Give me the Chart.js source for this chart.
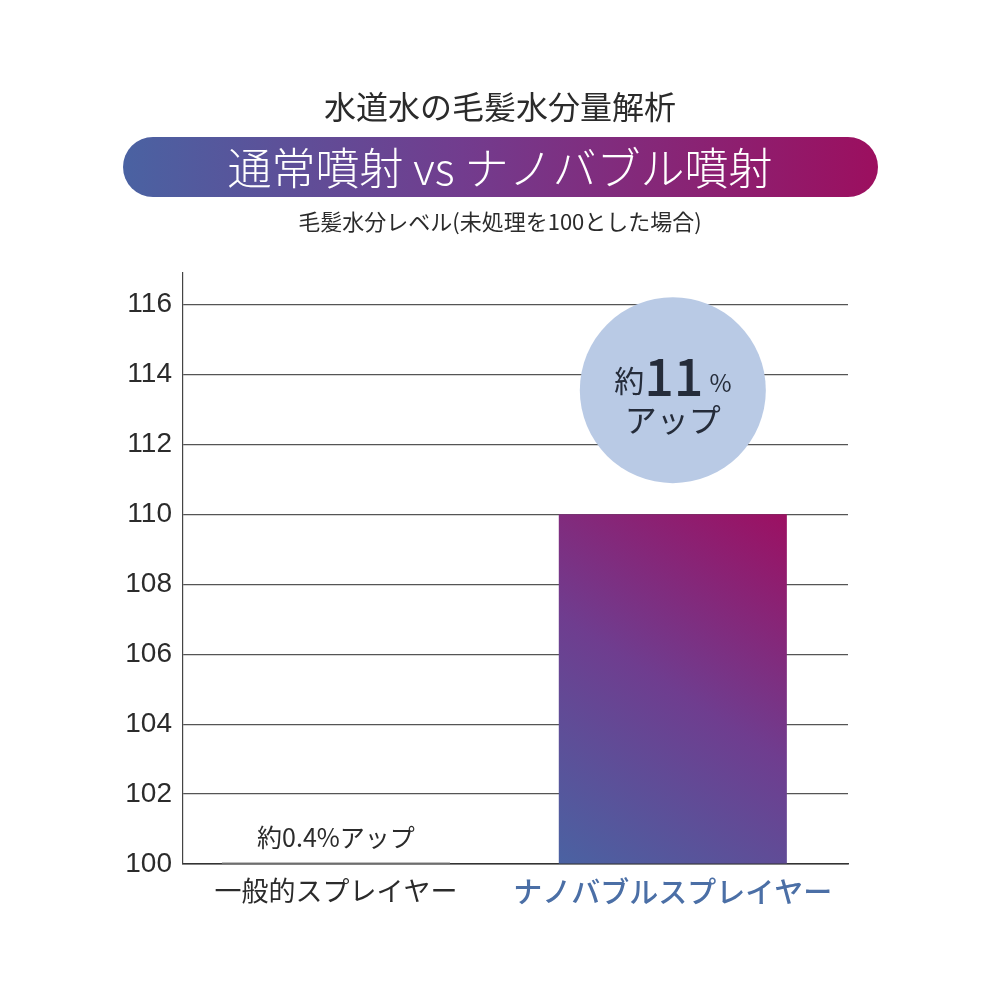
<!DOCTYPE html>
<html>
<head>
<meta charset="utf-8">
<script src="https://cdn.jsdelivr.net/npm/chart.js@4/dist/chart.umd.min.js"></script>
<style>
html,body{margin:0;padding:0;background:#fff;}
#wrap{width:1000px;height:1000px;position:relative;}
</style>
</head>
<body>
<div id="wrap"><canvas id="c" width="1000" height="1000"></canvas></div>
<script>
const titleText = "水道水の毛髪水分量解析";
const bannerText = "通常噴射 vs ナノバブル噴射";
const subtitleText = "毛髪水分レベル(未処理を100とした場合)";
const categories = ["一般的スプレイヤー", "ナノバブルスプレイヤー"];
const positions = [0, 1];
const values = [100.05, 110];
const yTicks = [100, 102, 104, 106, 108, 110, 112, 114, 116];
const yMin = 100;
const yMax = 116.9;
const noteSmall = "約0.4%アップ";
const noteBigPre = "約";
const noteBigNum = "11";
const noteBigPct = "%";
const noteBig2 = "アップ";

const FONT = "'Noto Sans CJK JP', 'Noto Sans', sans-serif";

function barColor(ctx) {
  const chart = ctx.chart;
  const a = chart.chartArea;
  if (!a) return '#7a3a90';
  if (ctx.dataIndex === 0) return '#a8a8a8';
  const xs = chart.scales.x, ys = chart.scales.y;
  const x0 = xs.getPixelForValue(positions[1]) - 114;
  const x1 = xs.getPixelForValue(positions[1]) + 114;
  const yb = ys.getPixelForValue(yMin);
  const yt = ys.getPixelForValue(values[1]);
  const g = chart.ctx.createLinearGradient(x0, yb, x1, yt);
  g.addColorStop(0, '#4a62a2');
  g.addColorStop(0.5, '#6f3d8f');
  g.addColorStop(1, '#9c1062');
  return g;
}

const decor = {
  id: 'decor',
  beforeDraw(chart) {
    const c = chart.ctx;
    c.save();
    c.fillStyle = '#fff';
    c.fillRect(0, 0, chart.width, chart.height);
    c.fillStyle = '#2b2b2b';
    c.textAlign = 'center';
    c.textBaseline = 'middle';
    c.font = "400 32px " + FONT;
    c.fillText(titleText, 500, 107);
    const px = 123, py = 137, pw = 755, ph = 60, r = 30;
    const g = c.createLinearGradient(px, 0, px + pw, 0);
    g.addColorStop(0, '#4a62a2');
    g.addColorStop(0.45, '#723c8e');
    g.addColorStop(1, '#9c0f5f');
    c.fillStyle = g;
    c.beginPath();
    c.moveTo(px + r, py);
    c.lineTo(px + pw - r, py);
    c.arc(px + pw - r, py + r, r, -Math.PI / 2, Math.PI / 2);
    c.lineTo(px + r, py + ph);
    c.arc(px + r, py + r, r, Math.PI / 2, Math.PI * 1.5);
    c.closePath();
    c.fill();
    c.fillStyle = '#fff';
    c.font = "300 44px " + FONT;
    c.fillText(bannerText, 500, 168);
    c.fillStyle = '#2b2b2b';
    c.font = "400 22px " + FONT;
    c.fillText(subtitleText, 500, 222);
    c.restore();
  },
  afterDatasetsDraw(chart) {
    const c = chart.ctx;
    const xs = chart.scales.x, ys = chart.scales.y;
    c.save();
    c.fillStyle = '#2b2b2b';
    c.textAlign = 'center';
    c.textBaseline = 'middle';
    c.font = "400 25px " + FONT;
    c.fillText(noteSmall, xs.getPixelForValue(positions[0]), ys.getPixelForValue(100.75));
    const cx = xs.getPixelForValue(positions[1]);
    const cy = ys.getPixelForValue(113.55);
    c.fillStyle = '#b9cae5';
    c.beginPath();
    c.arc(cx, cy, 93, 0, Math.PI * 2);
    c.fill();
    c.fillStyle = '#252c3a';
    c.textBaseline = 'alphabetic';
    c.textAlign = 'left';
    const f1 = "400 30px " + FONT, f2 = "500 52px " + FONT, f3 = "400 24px " + FONT;
    c.font = f1; const w1 = c.measureText(noteBigPre).width;
    c.font = f2; const w2 = c.measureText(noteBigNum).width;
    c.font = f3; const w3 = c.measureText(noteBigPct).width;
    let sx = cx - (w1 + w2 + w3 + 6) / 2;
    const by = cy + 2;
    c.font = f1; c.fillText(noteBigPre, sx, by); sx += w1;
    c.font = f2; c.fillText(noteBigNum, sx, by + 4); sx += w2 + 6;
    c.font = f3; c.fillText(noteBigPct, sx, by);
    c.textAlign = 'center';
    c.font = "400 32px " + FONT;
    c.fillText(noteBig2, cx, cy + 42);
    c.restore();
  }
};

new Chart(document.getElementById('c'), {
  type: 'bar',
  data: {
    datasets: [{
      data: positions.map((p, i) => ({ x: p, y: values[i] })),
      backgroundColor: barColor,
      borderWidth: 0,
      categoryPercentage: 1,
      barPercentage: 0.677,
      base: yMin
    }]
  },
  plugins: [decor],
  options: {
    responsive: false,
    animation: false,
    devicePixelRatio: 1,
    layout: { padding: { top: 273, right: 152, left: 0, bottom: 0 } },
    plugins: { legend: { display: false }, tooltip: { enabled: false }, title: { display: false } },
    scales: {
      x: {
        type: 'linear',
        offset: false,
        min: -0.454,
        max: 1.52,
        afterBuildTicks(scale) { scale.ticks = positions.map(v => ({ value: v })); },
        afterFit(scale) { scale.height = 136; },
        grid: { display: false, drawTicks: false, offset: false },
        border: { display: true, color: '#333', width: 1.5 },
        ticks: {
          padding: 11,
          autoSkip: false,
          maxRotation: 0,
          callback(v) { const i = positions.indexOf(v); return i >= 0 ? categories[i] : ''; },
          color(ctx) { return ctx.index === 1 ? '#4b6fa6' : '#2b2b2b'; },
          font(ctx) { return ctx.index === 1 ? { family: FONT, size: 29, weight: '500' } : { family: FONT, size: 27, weight: '400' }; }
        }
      },
      y: {
        min: yMin,
        max: yMax,
        afterBuildTicks(scale) { scale.ticks = yTicks.map(v => ({ value: v })); },
        afterFit(scale) { scale.width = 183; },
        grid: { color: '#555', lineWidth: 1.2, drawTicks: false },
        border: { display: true, color: '#444', width: 1.2 },
        ticks: {
          padding: 11,
          color: '#2b2b2b',
          font: { family: "'Liberation Sans', Arial, sans-serif", size: 28 }
        }
      }
    }
  }
});
</script>
</body>
</html>
